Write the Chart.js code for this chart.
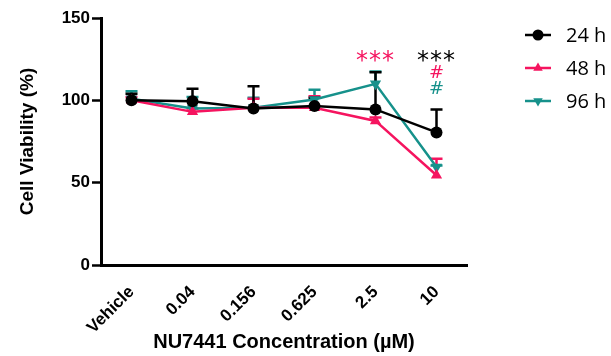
<!DOCTYPE html>
<html>
<head>
<meta charset="utf-8">
<script src="https://cdn.jsdelivr.net/npm/chart.js@4"></script>
<style>
html,body{margin:0;padding:0;background:#fff;}
#wrap{width:611px;height:356px;position:relative;}
</style>
</head>
<body>
<div id="wrap"><canvas id="c" width="611" height="356"></canvas></div>
<script>
const categories = ['Vehicle', '0.04', '0.156', '0.625', '2.5', '10'];
const seriesNames = ['24 h', '48 h', '96 h'];
const h24 = [100, 99.5, 95, 96.5, 94.5, 80.5];
const h24Err = [4, 7.5, 13.5, 5, 22.5, 14];
const h48 = [100, 93, 95.5, 95.5, 87.5, 54.5];
const h48Err = [2, 2, 5.5, 7, 2, 10];
const h96 = [101, 95, 95.5, 100.5, 110, 59.5];
const h96Err = [4.5, 7, 6, 6, 7.5, 1];
const yTicks = [0, 50, 100, 150];
const annotations = [
  {index: 4, value: 126, text: '***', series: 1},
  {index: 5, value: 126, text: '***', series: 0},
  {index: 5, value: 116.5, text: '#', series: 1},
  {index: 5, value: 106.5, text: '#', series: 2}
];

const colors = ['#000000', '#F5145F', '#16918B'];
const AXIS_FONT = '"Liberation Sans", Arial, sans-serif';

const datasets = [
  {label: seriesNames[0], data: h24, err: h24Err, borderColor: colors[0], backgroundColor: colors[0],
   pointStyle: 'circle', pointRadius: 6, pointRotation: 0},
  {label: seriesNames[1], data: h48, err: h48Err, borderColor: colors[1], backgroundColor: colors[1],
   pointStyle: 'triangle', pointRadius: 6.5, pointRotation: 0},
  {label: seriesNames[2], data: h96, err: h96Err, borderColor: colors[2], backgroundColor: colors[2],
   pointStyle: 'triangle', pointRadius: 6.5, pointRotation: 180}
].map(d => Object.assign(d, {borderWidth: 2.5, pointBorderWidth: 0, pointHoverRadius: 6, tension: 0, fill: false}));

const errorBars = {
  id: 'errorBars',
  beforeDatasetsDraw(chart) {
    const ctx = chart.ctx;
    const ys = chart.scales.y;
    for (let di = chart.data.datasets.length - 1; di >= 0; di--) {
      const ds = chart.data.datasets[di];
      const meta = chart.getDatasetMeta(di);
      ctx.save();
      ctx.strokeStyle = ds.borderColor;
      ctx.lineWidth = 2.5;
      meta.data.forEach((pt, i) => {
        const top = ys.getPixelForValue(ds.data[i] + ds.err[i]);
        ctx.beginPath();
        ctx.moveTo(pt.x, pt.y);
        ctx.lineTo(pt.x, top);
        ctx.moveTo(pt.x - 6, top);
        ctx.lineTo(pt.x + 6, top);
        ctx.stroke();
      });
      ctx.restore();
    }
  },
  afterDraw(chart) {
    const ctx = chart.ctx;
    const xs = chart.scales.x, ys = chart.scales.y;
    annotations.forEach(a => {
      ctx.save();
      ctx.fillStyle = colors[a.series];
      ctx.textAlign = 'center';
      ctx.textBaseline = 'middle';
      if (a.text === '***') {
        ctx.font = '24px "DejaVu Sans", sans-serif';
        try { ctx.letterSpacing = '1px'; } catch (e) {}
      } else {
        ctx.font = '18px "DejaVu Sans", sans-serif';
      }
      ctx.fillText(a.text, xs.getPixelForValue(a.index), ys.getPixelForValue(a.value) + (a.text === '***' ? 4 : 0));
      ctx.restore();
    });
    const lx0 = 525, lx1 = 551, tx = 566;
    const rows = [35, 68, 101];
    chart.data.datasets.forEach((ds, i) => {
      const y = rows[i];
      ctx.save();
      ctx.strokeStyle = ds.borderColor;
      ctx.fillStyle = ds.borderColor;
      ctx.lineWidth = 2.5;
      ctx.beginPath();
      ctx.moveTo(lx0, y); ctx.lineTo(lx1, y); ctx.stroke();
      Chart.helpers.drawPoint(ctx, {pointStyle: ds.pointStyle, rotation: ds.pointRotation, radius: 5.5, borderWidth: 0}, (lx0 + lx1) / 2, y);
      ctx.font = '20px "Open Sans", sans-serif';
      ctx.fillStyle = '#000';
      ctx.textBaseline = 'middle';
      ctx.textAlign = 'left';
      ctx.fillText(ds.label, tx, y + 1);
      ctx.restore();
    });
  }
};

new Chart(document.getElementById('c'), {
  type: 'line',
  data: {labels: categories, datasets},
  plugins: [errorBars],
  options: {
    responsive: false,
    animation: false,
    events: [],
    layout: {padding: {left: 0, right: 144, top: 18, bottom: 0}},
    plugins: {legend: {display: false}, tooltip: {enabled: false}},
    scales: {
      x: {
        type: 'category',
        offset: true,
        grid: {display: false, drawOnChartArea: false, drawTicks: true, tickLength: 9, tickWidth: 2.5, tickColor: '#000', offset: false},
        border: {display: true, color: '#000', width: 3},
        ticks: {color: '#000', font: {family: AXIS_FONT, size: 17, weight: 'bold'}, minRotation: 45, maxRotation: 45, padding: 8},
        title: {display: true, text: 'NU7441 Concentration (µM)', color: '#000', font: {family: AXIS_FONT, size: 20, weight: 'bold'}, padding: {top: 0, bottom: 2}},
        afterFit(s) { s.height = 91; }
      },
      y: {
        min: 0, max: 150,
        afterBuildTicks(s) { s.ticks = yTicks.map(v => ({value: v})); },
        grid: {display: true, drawOnChartArea: false, drawTicks: true, tickLength: 9, tickWidth: 2.5, tickColor: '#000'},
        border: {display: true, color: '#000', width: 3},
        ticks: {color: '#000', font: {family: AXIS_FONT, size: 17, weight: 'bold'}, padding: 2},
        title: {display: true, text: 'Cell Viability (%)', color: '#000', font: {family: AXIS_FONT, size: 19, weight: 'bold'}, padding: {top: 16, bottom: 0}},
        afterFit(s) { s.width = 101; }
      }
    }
  }
});
</script>
</body>
</html>
